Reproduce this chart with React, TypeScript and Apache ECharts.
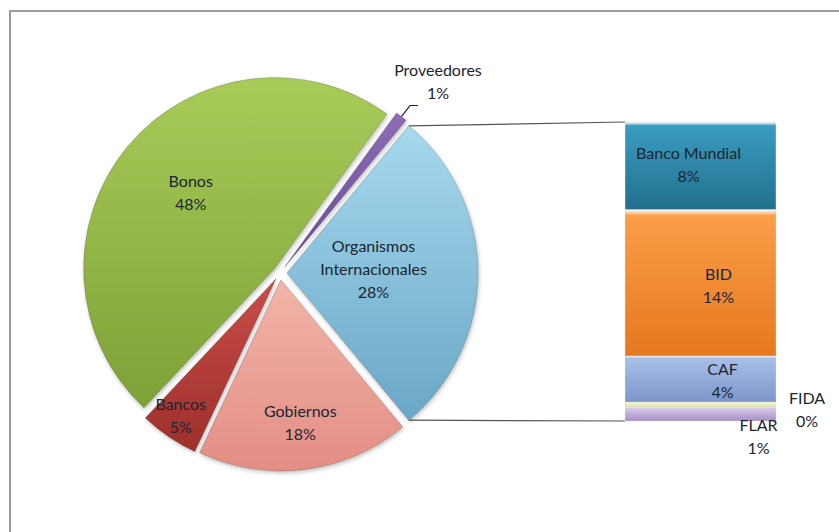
import React, { useEffect, useRef } from 'react';
import * as echarts from 'echarts';

// ---- data (percent of total debt) ----
const barCategories = ['Banco Mundial', 'BID', 'CAF', 'FIDA', 'FLAR'];
const barValues = [8.2, 13.7, 4.3, 0.49, 1.3];
const pieOtherName = 'Organismos\nInternacionales';
const pieCategories = ['Gobiernos', 'Bancos', 'Bonos', 'Proveedores'];
const pieValues = [18, 5, 48, 1];

// ---- layout / style ----
const W = 839;
const H = 532;
const PIE_CX = 280;
const PIE_CY = 273;
const PIE_R = 191;
const EXPLODE = 7;
const GRID_LEFT = 625;
const GRID_WIDTH = 151;
const GRID_TOP = 122;
const GRID_BOTTOM = 111;
const FONT = 'Lato, "Liberation Sans", sans-serif';
const TEXT = '#1c2430';

const grad = (top: string, bottom: string) =>
  new echarts.graphic.LinearGradient(0, 0, 0, 1, [
    { offset: 0, color: top },
    { offset: 1, color: bottom },
  ]);

const pieColors: [string, string][] = [
  ['#A6D9EE', '#6AA7C6'], // Organismos
  ['#F3B4A8', '#E38E85'], // Gobiernos
  ['#C84E49', '#9E2F2B'], // Bancos
  ['#A8CB59', '#7DA136'], // Bonos
  ['#8D6DB7', '#684A94'], // Proveedores
];
const barColors: [string, string][] = [
  ['#3A9CC0', '#22708D'],
  ['#FB9E48', '#E67820'],
  ['#A8BFE7', '#7E97CB'],
  ['#F4F8D6', '#DCE6A4'],
  ['#D8C9EC', '#A690C5'],
];
// label shifts (Excel "best fit" placement)
const pieLabelShift: [number, number][] = [
  [-12, -5],
  [7, 44],
  [-40, 55],
  [-8, -14],
  [15, -25],
];
const barLabelShift: [number, number][] = [
  [-12, -2],
  [18, 2],
  [22, 1],
  [26, 5],
  [58, 22],
];

export default function App() {
  const ref = useRef<HTMLDivElement>(null);

  useEffect(() => {
    if (!ref.current) return;
    const chart = echarts.init(ref.current, undefined, { renderer: 'svg' });

    const otherTotal = barValues.reduce((a, b) => a + b, 0);
    const allPieValues = [otherTotal, ...pieValues];
    const grandTotal = allPieValues.reduce((a, b) => a + b, 0);
    const pieNames = [pieOtherName, ...pieCategories];
    const startAngle = ((otherTotal / grandTotal) * 360) / 2;

    const pieData = pieNames.map((name, i) => {
      const item: any = {
        name,
        value: allPieValues[i],
        selected: true,
        itemStyle: { color: grad(pieColors[i][0], pieColors[i][1]) },
      };
      if (i === pieNames.length - 1) {
        item.label = { position: 'outside' };
        item.labelLine = {
          show: true,
          length: 14,
          length2: 8,
          smooth: false,
          lineStyle: { color: '#222', width: 1.2 },
        };
      }
      return item;
    });

    // stacked bar: bottom-first order
    const order = barCategories.map((_, i) => i).reverse();
    const barSeries = order.map((i) => ({
      type: 'bar',
      name: barCategories[i],
      stack: 'org',
      barWidth: '100%',
      data: [barValues[i]],
      itemStyle: {
        color: new echarts.graphic.LinearGradient(0, 0, 0, 1, [
          { offset: 0, color: '#ffffff' },
          { offset: 0.04, color: barColors[i][0] },
          { offset: 1, color: barColors[i][1] },
        ]),
        borderColor: 'rgba(0,0,0,0.15)',
        borderWidth: 0.5,
      },
      label: {
        show: true,
        position: barCategories[i] === 'FIDA' ? 'right' : 'inside',
        offset: barLabelShift[i],
        formatter: () =>
          `${barCategories[i]}\n${Math.round((barValues[i] / grandTotal) * 100)}%`,
        color: TEXT,
        fontFamily: FONT,
        fontSize: 16,
        lineHeight: 23,
        align: 'center',
      },
      emphasis: { disabled: true },
    }));

    chart.setOption({
      animation: false,
      backgroundColor: '#ffffff',
      grid: {
        left: GRID_LEFT,
        width: GRID_WIDTH,
        top: GRID_TOP,
        bottom: GRID_BOTTOM,
        containLabel: false,
      },
      xAxis: { type: 'category', data: [''], show: false },
      yAxis: { type: 'value', min: 0, max: otherTotal, show: false },
      series: [
        {
          type: 'pie',
          center: [PIE_CX, PIE_CY],
          radius: [0, PIE_R],
          startAngle,
          clockwise: true,
          selectedMode: 'multiple',
          selectedOffset: EXPLODE,
          avoidLabelOverlap: false,
          data: pieData,
          itemStyle: {
            borderColor: 'rgba(0,0,0,0.22)',
            borderWidth: 0.8,
            shadowBlur: 4,
            shadowOffsetX: 1,
            shadowOffsetY: 2,
            shadowColor: 'rgba(0,0,0,0.25)',
          },
          label: {
            show: true,
            position: 'inside',
            formatter: (p: any) => `${p.name}\n${Math.round(p.percent)}%`,
            color: TEXT,
            fontFamily: FONT,
            fontSize: 16,
            lineHeight: 23,
          },
          labelLine: { show: false },
          labelLayout: (p: any) => {
            const s = pieLabelShift[p.dataIndex];
            const out: any = { dx: s[0], dy: s[1] };
            if (p.dataIndex === pieNames.length - 1) out.align = 'center';
            return out;
          },
          emphasis: { disabled: true },
        },
        ...barSeries,
      ],
    });

    // connector lines from the split slice to the bar
    const a = (startAngle * Math.PI) / 180;
    const apexX = PIE_CX + EXPLODE;
    const cornerX = apexX + PIE_R * Math.cos(a);
    const topY = PIE_CY - PIE_R * Math.sin(a);
    const botY = PIE_CY + PIE_R * Math.sin(a);
    const barTop = chart.convertToPixel({ yAxisIndex: 0 } as any, otherTotal) as number;
    const barBottom = chart.convertToPixel({ yAxisIndex: 0 } as any, 0) as number;

    chart.setOption({
      graphic: [
        {
          type: 'rect',
          shape: { x: 10, y: 11, width: W + 60, height: H + 60 },
          style: { fill: 'none', stroke: '#9a9a9a', lineWidth: 2 },
          silent: true,
        },
        {
          type: 'line',
          shape: { x1: cornerX, y1: topY, x2: GRID_LEFT, y2: barTop },
          style: { stroke: '#555', lineWidth: 1.2 },
          silent: true,
        },
        {
          type: 'line',
          shape: { x1: cornerX, y1: botY, x2: GRID_LEFT, y2: barBottom },
          style: { stroke: '#555', lineWidth: 1.2 },
          silent: true,
        },
      ],
    });

    return () => chart.dispose();
  }, []);

  return (
    <div
      ref={ref}
      style={{ position: 'fixed', left: 0, top: 0, width: W, height: H }}
    />
  );
}
